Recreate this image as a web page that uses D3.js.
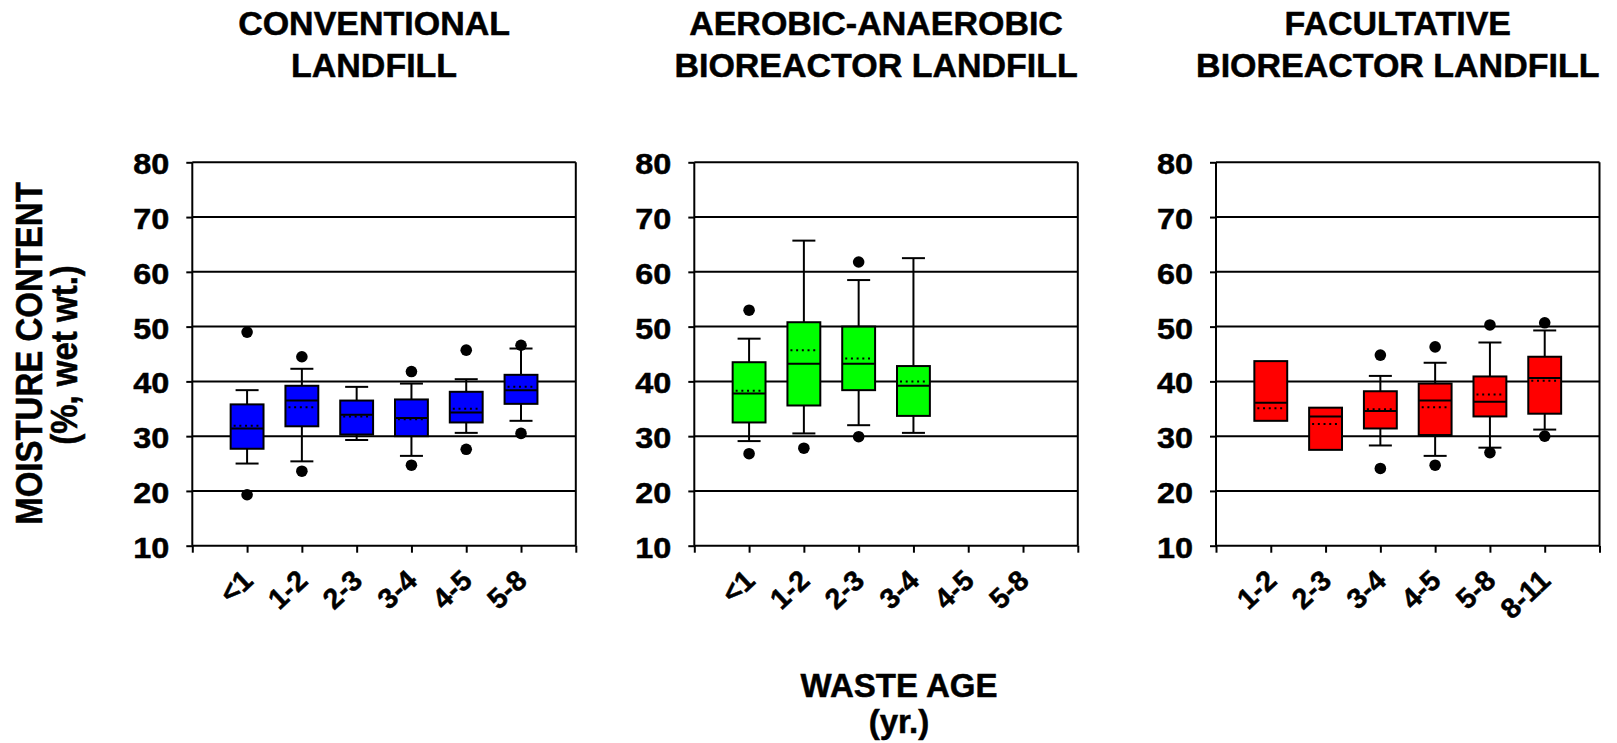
<!DOCTYPE html>
<html>
<head>
<meta charset="utf-8">
<script src="https://cdn.jsdelivr.net/npm/d3@7/dist/d3.min.js"></script>
<style>
  html, body { margin: 0; padding: 0; background: #fff; }
  text { font-family: "Liberation Sans", Arial, sans-serif; font-weight: bold; fill: #000; stroke: #000; stroke-width: 0.5px; }
</style>
</head>
<body>
<svg id="chart" width="1617" height="743"></svg>
<script>
// ---------------- DATA ----------------
const panelTitles = [
  ["CONVENTIONAL", "LANDFILL"],
  ["AEROBIC-ANAEROBIC", "BIOREACTOR LANDFILL"],
  ["FACULTATIVE", "BIOREACTOR LANDFILL"]
];
const yTickValues = [10, 20, 30, 40, 50, 60, 70, 80];
const conventionalAges = ["<1", "1-2", "2-3", "3-4", "4-5", "5-8"];
const aerobicAges      = ["<1", "1-2", "2-3", "3-4", "4-5", "5-8"];
const facultativeAges  = ["1-2", "2-3", "3-4", "4-5", "5-8", "8-11"];

// each box: [lower whisker, Q1, median, Q3, upper whisker, mean]
const conventionalBoxes = [
  [25.0, 27.7, 31.4, 35.8, 38.4, 31.9],
  [25.4, 31.8, 36.5, 39.2, 42.3, 35.3],
  [29.3, 30.3, 33.9, 36.5, 39.0, 33.6],
  [26.4, 30.0, 33.3, 36.7, 39.6, 33.1],
  [30.6, 32.5, 34.3, 38.1, 40.4, 35.0],
  [32.8, 35.9, 38.4, 41.2, 46.0, 39.0]
];
const conventionalOutliers = [[49.0, 19.3], [44.5, 23.6], [], [41.8, 24.7], [45.7, 27.6], [46.6, 30.5]];

const aerobicBoxes = [
  [29.1, 32.5, 37.8, 43.5, 47.8, 38.3],
  [30.5, 35.6, 43.2, 50.8, 65.7, 45.7],
  [32.0, 38.4, 43.2, 50.0, 58.5, 44.2],
  [30.6, 33.7, 39.2, 42.8, 62.5, 40.0],
  null,
  null
];
const aerobicOutliers = [[53.0, 26.8], [27.8], [61.8, 29.9], [], [], []];

const facultativeBoxes = [
  [null, 32.8, 36.1, 43.7, null, 35.1],
  [null, 27.5, 33.6, 35.2, null, 32.2],
  [28.3, 31.4, 34.6, 38.2, 41.0, 34.9],
  [26.4, 30.2, 36.5, 39.6, 43.4, 35.3],
  [27.9, 33.6, 36.3, 40.9, 47.1, 37.6],
  [31.2, 34.1, 40.6, 44.5, 49.3, 40.1]
];
const facultativeOutliers = [[], [], [44.8, 24.1], [46.3, 24.7], [50.3, 27.0], [50.7, 30.0]];

const panelColors = ["#0000ff", "#00ff00", "#ff0000"];
const yAxisTitle = ["MOISTURE CONTENT", "(%, wet wt.)"];
const xAxisTitle = ["WASTE AGE", "(yr.)"];

// ---------------- LAYOUT ----------------
const panels = [
  { ages: conventionalAges, boxes: conventionalBoxes, outliers: conventionalOutliers },
  { ages: aerobicAges, boxes: aerobicBoxes, outliers: aerobicOutliers },
  { ages: facultativeAges, boxes: facultativeBoxes, outliers: facultativeOutliers }
];
const panelLeft = [192.3, 694.3, 1216];
const plotW = 383.5, plotTop = 162.3, plotH = 383.4;

const svg = d3.select("#chart");

const y = d3.scaleLinear().domain([10, 80]).range([plotH, 0]);
const x = d3.scaleLinear().domain([0, 7]).range([0, plotW]);

function addText(sel, tx, ty, str, size, sx, rot, anchor) {
  return sel.append("text")
    .attr("transform", `translate(${tx},${ty}) scale(${sx},1) rotate(${rot})`)
    .attr("text-anchor", anchor)
    .attr("font-size", size)
    .text(str);
}

panels.forEach((p, pi) => {
  const g = svg.append("g").attr("transform", `translate(${panelLeft[pi]},${plotTop})`);

  // gridlines
  g.append("g").selectAll("line").data(yTickValues.filter(v => v > 10 && v < 80)).join("line")
    .attr("x1", 0).attr("x2", plotW)
    .attr("y1", d => y(d)).attr("y2", d => y(d))
    .attr("stroke", "#000").attr("stroke-width", 2);

  // frame top & right
  g.append("line").attr("x1", 0).attr("x2", plotW).attr("y1", y(80)).attr("y2", y(80))
    .attr("stroke", "#000").attr("stroke-width", 2);
  g.append("line").attr("x1", plotW).attr("x2", plotW).attr("y1", y(80)).attr("y2", y(10))
    .attr("stroke", "#000").attr("stroke-width", 2);

  // y axis
  const ya = g.append("g").call(d3.axisLeft(y).tickValues(yTickValues).tickSize(6).tickFormat(""));
  ya.selectAll("path, line").attr("stroke", "#000").attr("stroke-width", 2);
  ya.select("path").attr("d", `M0,${y(80)}V${y(10)}`);
  yTickValues.forEach(v => {
    addText(g, -23, y(v) + 12, String(v), 30, 1.08, 0, "end");
  });

  // x axis
  const xa = g.append("g").attr("transform", `translate(0,${plotH})`)
    .call(d3.axisBottom(x).tickValues(d3.range(0, 8)).tickSize(7)
      .tickFormat(i => (i >= 1 && i <= p.ages.length) ? p.ages[i - 1] : ""));
  xa.selectAll("path, line").attr("stroke", "#000").attr("stroke-width", 2);
  xa.select("path").attr("d", `M0,0H${plotW}`);
  xa.selectAll("text")
    .attr("x", null).attr("y", null).attr("dy", null)
    .attr("fill", "#000")
    .attr("font-size", 28.5)
    .attr("font-family", '"Liberation Sans", Arial, sans-serif')
    .attr("font-weight", "bold")
    .attr("text-anchor", "end")
    .attr("transform", "translate(7,37) rotate(-43)");

  // boxes
  const step = x(1) - x(0);
  const boxW = step * 0.6, capW = step * 0.42;
  p.boxes.forEach((b, i) => {
    const cx = x(i + 1);
    if (!b) return;
    const [wLo, q1, med, q3, wHi, mean] = b;
    const bg = g.append("g");
    if (wHi !== null) {
      bg.append("line").attr("x1", cx).attr("x2", cx).attr("y1", y(q3)).attr("y2", y(wHi))
        .attr("stroke", "#000").attr("stroke-width", 2);
      bg.append("line").attr("x1", cx - capW / 2).attr("x2", cx + capW / 2).attr("y1", y(wHi)).attr("y2", y(wHi))
        .attr("stroke", "#000").attr("stroke-width", 2);
    }
    if (wLo !== null) {
      bg.append("line").attr("x1", cx).attr("x2", cx).attr("y1", y(q1)).attr("y2", y(wLo))
        .attr("stroke", "#000").attr("stroke-width", 2);
      bg.append("line").attr("x1", cx - capW / 2).attr("x2", cx + capW / 2).attr("y1", y(wLo)).attr("y2", y(wLo))
        .attr("stroke", "#000").attr("stroke-width", 2);
    }
    bg.append("rect")
      .attr("x", cx - boxW / 2).attr("width", boxW)
      .attr("y", y(q3)).attr("height", y(q1) - y(q3))
      .attr("fill", panelColors[pi]).attr("stroke", "#000").attr("stroke-width", 2);
    bg.append("line").attr("x1", cx - boxW / 2).attr("x2", cx + boxW / 2).attr("y1", y(med)).attr("y2", y(med))
      .attr("stroke", "#000").attr("stroke-width", 2);
    bg.append("line").attr("x1", cx - boxW / 2 + 3).attr("x2", cx + boxW / 2 - 2).attr("y1", y(mean)).attr("y2", y(mean))
      .attr("stroke", "#000").attr("stroke-width", 2).attr("stroke-dasharray", "2 3.7");
  });
  // outliers
  p.outliers.forEach((os, i) => {
    g.selectAll(null).data(os).join("circle")
      .attr("cx", x(i + 1)).attr("cy", d => y(d)).attr("r", 5.8).attr("fill", "#000");
  });

  // title
  const tcx = panelLeft[pi] + plotW / 2 - 10;
  addText(svg, tcx, 35, panelTitles[pi][0], 33, 1.03, 0, "middle");
  addText(svg, tcx, 77, panelTitles[pi][1], 33, 1.03, 0, "middle");
});

// axis titles
addText(svg, 42, 353.5, yAxisTitle[0], 33, 1.12, -90, "middle");
addText(svg, 77, 355, yAxisTitle[1], 33, 1.12, -90, "middle");
addText(svg, 899, 697, xAxisTitle[0], 33, 1.0, 0, "middle");
addText(svg, 899, 733, xAxisTitle[1], 33, 1.0, 0, "middle");
</script>
</body>
</html>
